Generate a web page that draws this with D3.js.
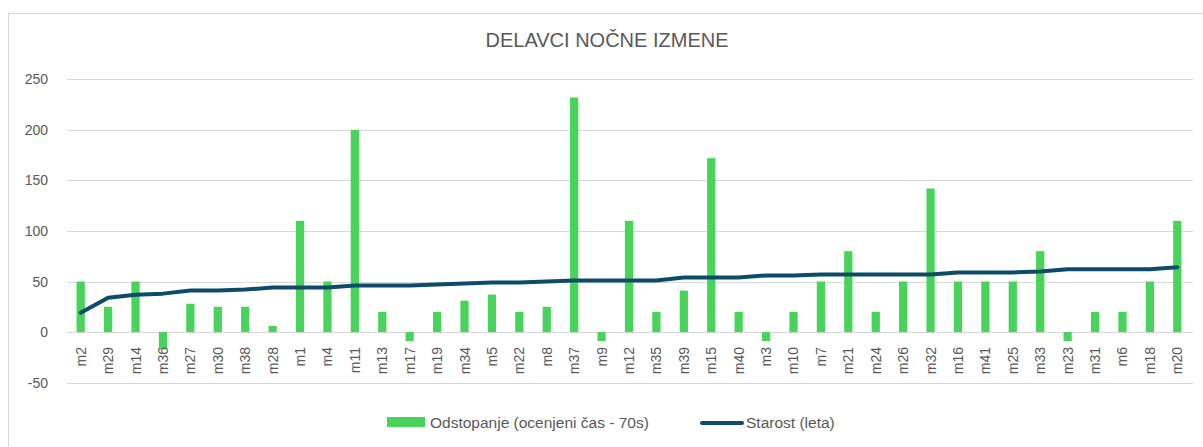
<!DOCTYPE html>
<html>
<head>
<meta charset="utf-8">
<script src="https://cdn.jsdelivr.net/npm/d3@7.9.0/dist/d3.min.js"></script>
<style>
  html, body { margin: 0; padding: 0; background: #fff; }
  svg { display: block; font-family: "Liberation Sans", Arial, sans-serif; }
</style>
</head>
<body>
<svg id="chart" width="1203" height="447"></svg>
<script>
// workers sorted by age
const workers = ["m2","m29","m14","m36","m27","m30","m38","m28","m1","m4","m11","m13","m17","m19","m34","m5","m22","m8","m37","m9","m12","m35","m39","m15","m40","m3","m10","m7","m21","m24","m26","m32","m16","m41","m25","m33","m23","m31","m6","m18","m20"];

// deviation from 70s estimate
const deviation = [50,25,50,-17,28,25,25,6,110,50,200,20,-9,20,31,37,20,25,232,-9,110,20,41,172,20,-9,20,50,80,20,50,142,50,50,50,80,-9,20,20,50,110];

// age in years
const age = [19,34,37,38,41,41,42,44,44,44,46,46,46,47,48,49,49,50,51,51,51,51,54,54,54,56,56,57,57,57,57,57,59,59,59,60,62,62,62,62,64];

const yTicks = [-50, 0, 50, 100, 150, 200, 250];

const title = "DELAVCI NOČNE IZMENE";
const barLabel = "Odstopanje (ocenjeni čas - 70s)";
const lineLabel = "Starost (leta)";

const green = "#48d35a";
const navy = "#0c4c68";
const grid = "#d9d9d9";
const textColor = "#595959";

const svg = d3.select("#chart");

// outer chart frame
svg.append("rect")
  .attr("x", 8.5).attr("y", 13.5)
  .attr("width", 1220).attr("height", 460)
  .attr("fill", "#fff")
  .attr("stroke", grid);

const x = d3.scaleBand()
  .domain(workers)
  .range([67, 1191])
  .padding(0);

const y = d3.scaleLinear()
  .domain([-50, 250])
  .range([382.6, 79.3]);

// gridlines
svg.append("g")
  .selectAll("line")
  .data(yTicks)
  .join("line")
  .attr("x1", 67).attr("x2", 1193)
  .attr("y1", (d) => Math.round(y(d)) + 0.5)
  .attr("y2", (d) => Math.round(y(d)) + 0.5)
  .attr("stroke", grid)
  .attr("stroke-width", 1);

// y labels
svg.append("g")
  .selectAll("text")
  .data(yTicks)
  .join("text")
  .attr("x", 48)
  .attr("y", (d) => y(d) + 5)
  .attr("text-anchor", "end")
  .attr("font-size", 14)
  .attr("fill", textColor)
  .text((d) => d);

// bars
const barW = x.bandwidth() * 0.3;
svg.append("g")
  .selectAll("rect")
  .data(workers)
  .join("rect")
  .attr("x", (d) => x(d) + (x.bandwidth() - barW) / 2)
  .attr("width", barW)
  .attr("y", (d, i) => y(Math.max(0, deviation[i])))
  .attr("height", (d, i) => Math.abs(y(deviation[i]) - y(0)))
  .attr("fill", green);

// x labels (drawn over the -50 gridline, like the original)
svg.append("g")
  .selectAll("text")
  .data(workers)
  .join("text")
  .attr("transform", (d) => `translate(${x(d) + x.bandwidth() / 2 + 5},347) rotate(-90)`)
  .attr("text-anchor", "end")
  .attr("font-size", 14)
  .attr("fill", textColor)
  .text((d) => d);

// age line
const line = d3.line()
  .x((d) => x(d) + x.bandwidth() / 2)
  .y((d, i) => y(age[i]));

svg.append("path")
  .datum(workers)
  .attr("d", line)
  .attr("fill", "none")
  .attr("stroke", navy)
  .attr("stroke-width", 4)
  .attr("stroke-linejoin", "round")
  .attr("stroke-linecap", "round");

// title
svg.append("text")
  .attr("x", 607)
  .attr("y", 47)
  .attr("text-anchor", "middle")
  .attr("font-size", 20)
  .attr("fill", textColor)
  .text(title);

// legend
const legend = svg.append("g");
legend.append("rect")
  .attr("x", 387).attr("y", 417)
  .attr("width", 38).attr("height", 10)
  .attr("fill", green);
legend.append("text")
  .attr("x", 430).attr("y", 428)
  .attr("font-size", 15.5)
  .attr("fill", textColor)
  .text(barLabel);
legend.append("line")
  .attr("x1", 702).attr("x2", 742)
  .attr("y1", 423).attr("y2", 423)
  .attr("stroke", navy)
  .attr("stroke-width", 4)
  .attr("stroke-linecap", "round");
legend.append("text")
  .attr("x", 746).attr("y", 428)
  .attr("font-size", 15.5)
  .attr("fill", textColor)
  .text(lineLabel);
</script>
</body>
</html>
